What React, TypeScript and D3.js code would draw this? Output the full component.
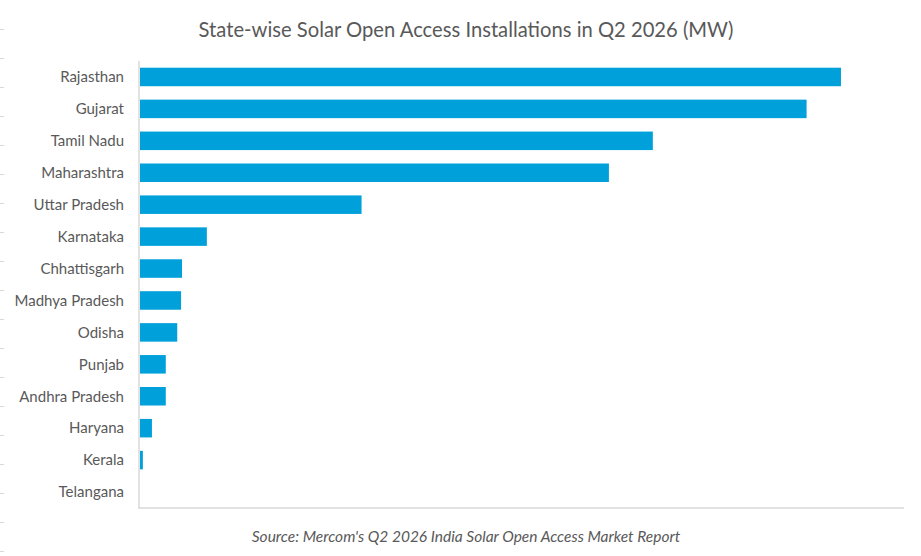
import React from 'react';
import * as d3 from 'd3';

// --- DATA ---
const states = [
  'Rajasthan', 'Gujarat', 'Tamil Nadu', 'Maharashtra', 'Uttar Pradesh', 'Karnataka',
  'Chhattisgarh', 'Madhya Pradesh', 'Odisha', 'Punjab', 'Andhra Pradesh', 'Haryana',
  'Kerala', 'Telangana',
];
const installationsMW = [734, 698, 537, 491, 232, 70, 44, 43, 39, 27, 27, 12.5, 3, 0];
const chartTitle = 'State-wise Solar Open Access Installations in Q2 2026 (MW)';
const sourceNote = "Source: Mercom's Q2 2026 India Solar Open Access Market Report";

const W = 921;
const H = 556;
const plot = { left: 139, right: 904, top: 61, bottom: 508 };
const font = 'Lato, "Open Sans", sans-serif';
const textColor = '#595959';
const gridColor = '#d9d9d9';
const barColor = '#00a1db';

export default function App() {
  const rows = states.map((s, i) => ({ state: s, value: installationsMW[i] }));

  const x = d3.scaleLinear().domain([0, 800]).range([plot.left + 1, plot.right]);
  const y = d3.scaleBand<string>()
    .domain(states)
    .range([plot.top, plot.bottom])
    .paddingInner(0.42)
    .paddingOuter(0.21);

  // faint row marks at the left page edge
  const edgeTicks = d3.range(29, H, 29);

  return (
    <svg width={W} height={H} style={{ position: 'absolute', left: 0, top: 0, background: '#fff' }}>
      <rect width={W} height={H} fill="#fff" />
      {edgeTicks.map(t => (
        <line key={t} x1={0} x2={4} y1={t + 0.5} y2={t + 0.5} stroke={gridColor} strokeWidth={1} />
      ))}

      <text x={466} y={37} textAnchor="middle" fontFamily={font} fontSize={20.2} fill={textColor}>
        {chartTitle}
      </text>

      {rows.map(d => (
        <rect
          key={d.state}
          x={x(0)}
          y={y(d.state)!}
          width={Math.max(0, x(d.value) - x(0))}
          height={y.bandwidth()}
          fill={barColor}
        />
      ))}

      {rows.map(d => (
        <text
          key={'l' + d.state}
          x={124}
          y={y(d.state)! + y.bandwidth() / 2}
          dy="0.35em"
          textAnchor="end"
          fontFamily={font}
          fontSize={15}
          fill={textColor}
        >
          {d.state}
        </text>
      ))}

      <line x1={plot.left} x2={plot.left} y1={plot.top} y2={plot.bottom + 0.75} stroke={gridColor} strokeWidth={1.5} />
      <line x1={plot.left - 0.75} x2={plot.right} y1={plot.bottom} y2={plot.bottom} stroke={gridColor} strokeWidth={1.5} />

      <text x={466} y={542} textAnchor="middle" fontFamily={font} fontSize={15.5} fontStyle="italic" fill={textColor}>
        {sourceNote}
      </text>
    </svg>
  );
}
